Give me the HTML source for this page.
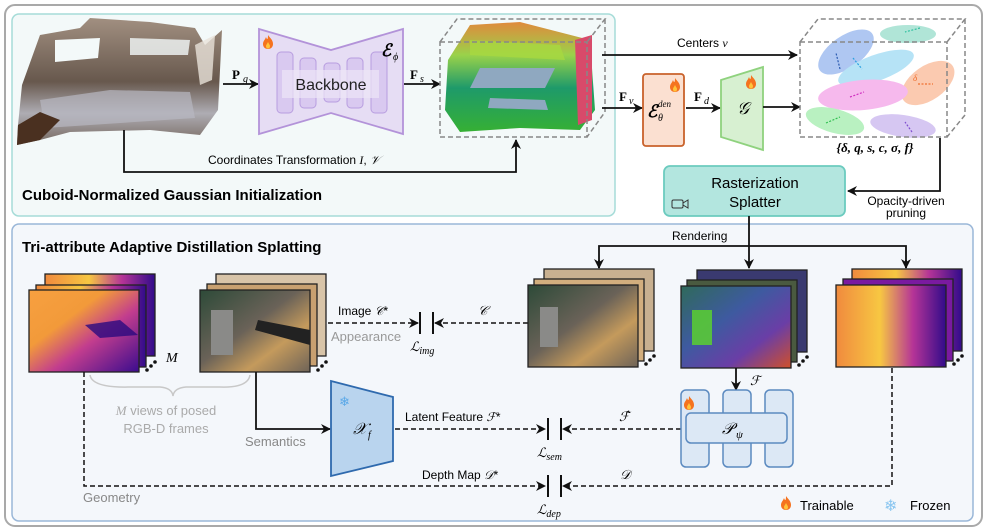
<!DOCTYPE html>
<html><head><meta charset="utf-8"><style>
html,body{margin:0;padding:0;background:#fff;}
svg{display:block;}
text{font-family:"Liberation Sans",sans-serif;}
.m{font-family:"Liberation Serif",serif;font-style:italic;}
.b{font-family:"Liberation Serif",serif;font-weight:bold;}
</style></head><body>
<svg width="987" height="531" viewBox="0 0 987 531" xmlns="http://www.w3.org/2000/svg">
<defs>
<marker id="a" markerWidth="10" markerHeight="10" refX="9" refY="5" orient="auto" markerUnits="userSpaceOnUse"><path d="M0,0 L10,5 L0,10 L3,5 Z" fill="#111"/></marker>
<linearGradient id="dep" x1="0" y1="0" x2="1" y2="1"><stop offset="0" stop-color="#f7a040"/><stop offset="0.35" stop-color="#f29a3a"/><stop offset="0.6" stop-color="#c23d8e"/><stop offset="1" stop-color="#3a0c8e"/></linearGradient>
<linearGradient id="dep2" x1="0" y1="0" x2="1" y2="0"><stop offset="0" stop-color="#f08a3e"/><stop offset="0.4" stop-color="#f7c742"/><stop offset="0.7" stop-color="#b53497"/><stop offset="1" stop-color="#310b8a"/></linearGradient>
<linearGradient id="rgb" x1="0" y1="0" x2="1" y2="1"><stop offset="0" stop-color="#2d4a38"/><stop offset="0.45" stop-color="#6a6258"/><stop offset="0.7" stop-color="#c49a5c"/><stop offset="1" stop-color="#6e6358"/></linearGradient>
<linearGradient id="feat" x1="0" y1="0" x2="1" y2="1"><stop offset="0" stop-color="#2f6a5a"/><stop offset="0.4" stop-color="#3e5aa0"/><stop offset="0.7" stop-color="#6a3ea6"/><stop offset="1" stop-color="#d0502a"/></linearGradient>
<linearGradient id="pc" x1="0" y1="0" x2="0" y2="1"><stop offset="0" stop-color="#9a8676"/><stop offset="0.5" stop-color="#5b4a3e"/><stop offset="0.75" stop-color="#a8a6ad"/><stop offset="1" stop-color="#6a5a50"/></linearGradient>
<linearGradient id="cc" x1="0" y1="0" x2="0" y2="1"><stop offset="0" stop-color="#e08a3c"/><stop offset="0.3" stop-color="#9ad24a"/><stop offset="0.6" stop-color="#1e9a6a"/><stop offset="1" stop-color="#36b034"/></linearGradient>
<g id="fire"><path d="M5,0 C7,3 10,5 10,9 C10,12 8,14 5,14 C2,14 0,12 0,9 C0,6 2,5 3,2 C4,5 5,5 5,0Z" fill="#f5731f"/><path d="M5,7 C6,9 7,10 7,11 C7,13 6,13.5 5,13.5 C4,13.5 3,13 3,11 C3,10 4,9 5,7Z" fill="#ffc43a"/></g>
</defs>
<rect x="5" y="5" width="977" height="521" rx="10" fill="#fff" stroke="#a9a9a9" stroke-width="2"/>
<rect x="12" y="14" width="603" height="202" rx="7" fill="#f3f9f9" stroke="#a6dcd8" stroke-width="1.5"/>
<rect x="12" y="224" width="961" height="297" rx="7" fill="#f4f7fb" stroke="#9ab7d8" stroke-width="1.5"/>

<!-- point cloud -->
<path d="M22,85 L40,35 L80,28 L90,18 L150,22 L195,28 L205,45 L222,30 L218,110 L200,135 L150,130 L70,132 L40,140 L17,145 L18,125 Z" fill="url(#pc)" opacity="0.92"/>
<path d="M55,40 L100,38 L98,58 L55,62Z" fill="#f3f9f9"/>
<path d="M130,38 L190,40 L188,55 L130,55Z" fill="#f3f9f9" opacity="0.8"/>
<path d="M195,45 L215,35 L212,80 L200,85Z" fill="#e8e2da" opacity="0.8"/>
<path d="M40,100 L110,90 L190,92 L195,118 L45,128Z" fill="#b8b8c2" opacity="0.7"/>
<path d="M18,125 L40,112 L60,120 L40,140 L17,145Z" fill="#4a3020"/>
<text x="232" y="79" class="b" font-size="13">P</text><text x="243" y="82" class="m" font-size="10">g</text>
<line x1="223" y1="84" x2="258" y2="84" stroke="#111" stroke-width="1.8" marker-end="url(#a)"/>
<!-- backbone -->
<path d="M259,29 L331,50 L403,29 L403,134 L331,113 L259,134 Z" fill="#e6ddf4" stroke="#b393d9" stroke-width="1.8"/>
<g fill="#d9c9f0" stroke="#b89ddf" stroke-width="1"><rect x="277" y="52" width="16" height="61" rx="4"/><rect x="300" y="58" width="16" height="50" rx="4"/><rect x="324" y="63" width="16" height="39" rx="4"/><rect x="347" y="58" width="16" height="50" rx="4"/><rect x="371" y="52" width="16" height="61" rx="4"/></g>
<rect x="282" y="70" width="97" height="28" fill="#ece6f7" opacity="0.7"/>
<text x="331" y="90" font-size="16" text-anchor="middle" fill="#222">Backbone</text>
<use href="#fire" x="263" y="35"/>
<text x="381" y="56" class="m" font-size="17" font-weight="bold">ℰ</text><text x="393" y="60" class="m" font-size="10">ϕ</text>
<text x="410" y="79" class="b" font-size="13">F</text><text x="420" y="82" class="m" font-size="10">s</text>
<line x1="404" y1="84" x2="440" y2="84" stroke="#111" stroke-width="1.8" marker-end="url(#a)"/>
<!-- colored cloud -->
<path d="M448,60 L470,25 L520,22 L590,40 L595,110 L580,130 L520,128 L460,132 L445,110Z" fill="url(#cc)"/>
<path d="M470,40 L560,45 L565,60 L470,55Z" fill="#a8d840" opacity="0.8"/>
<path d="M480,68 L555,68 L545,88 L470,88Z" fill="#8fa8c0"/>
<path d="M490,98 L545,100 L548,110 L488,108Z" fill="#8fa8c0"/>
<path d="M575,40 L592,35 L592,120 L578,125Z" fill="#d84a6a"/>
<g fill="none" stroke="#888" stroke-width="1.5" stroke-dasharray="5,3"><rect x="440" y="42" width="147" height="95"/><path d="M440,42 L457,19 L605,19 L587,42 M605,19 L605,112 L587,137"/></g>
<!-- coordinates -->
<path d="M124,130 L124,172 L516,172 L516,140" fill="none" stroke="#111" stroke-width="1.8" marker-end="url(#a)"/>
<text x="208" y="164" font-size="12">Coordinates Transformation <tspan class="m">I</tspan>, <tspan class="m">𝒱</tspan></text>
<text x="22" y="200" font-size="15" font-weight="bold">Cuboid-Normalized Gaussian Initialization</text>

<!-- right top -->
<line x1="602" y1="55" x2="797" y2="55" stroke="#111" stroke-width="1.8" marker-end="url(#a)"/>
<text x="677" y="47" font-size="12">Centers <tspan class="m">v</tspan></text>
<line x1="602" y1="108" x2="642" y2="108" stroke="#111" stroke-width="1.8" marker-end="url(#a)"/>
<text x="619" y="101" class="b" font-size="13">F</text><text x="629" y="104" class="m" font-size="10">v</text>
<rect x="643" y="74" width="41" height="72" rx="3" fill="#fbe0d1" stroke="#c9622b" stroke-width="1.8"/>
<use href="#fire" x="670" y="78"/>
<text x="647" y="117" class="m" font-size="17" font-weight="bold">ℰ</text><text x="658" y="121" class="m" font-size="10">θ</text><text x="658" y="107" class="m" font-size="9">den</text>
<line x1="686" y1="108" x2="720" y2="108" stroke="#111" stroke-width="1.8" marker-end="url(#a)"/>
<text x="694" y="101" class="b" font-size="13">F</text><text x="704" y="104" class="m" font-size="10">d</text>
<path d="M721,80 L763,67 L763,150 L721,137Z" fill="#d7f0d1" stroke="#8fd27e" stroke-width="1.8"/>
<use href="#fire" x="746" y="75"/>
<text x="737" y="114" class="m" font-size="17">𝒢</text>
<line x1="763" y1="107" x2="800" y2="107" stroke="#111" stroke-width="1.8" marker-end="url(#a)"/>
<!-- gaussians -->
<g opacity="0.55">
<ellipse cx="846" cy="52" rx="32" ry="16" transform="rotate(-35 846 52)" fill="#6f9be8"/>
<ellipse cx="908" cy="34" rx="28" ry="9" fill="#70d0b8"/>
<ellipse cx="876" cy="68" rx="40" ry="13" transform="rotate(-20 876 68)" fill="#7ccdf0"/>
<ellipse cx="928" cy="83" rx="30" ry="17" transform="rotate(-35 928 83)" fill="#f8a070"/>
<ellipse cx="863" cy="95" rx="45" ry="15" transform="rotate(-5 863 95)" fill="#ef80e0"/>
<ellipse cx="835" cy="121" rx="30" ry="12" transform="rotate(15 835 121)" fill="#80e690"/>
<ellipse cx="903" cy="126" rx="33" ry="11" transform="rotate(8 903 126)" fill="#b69ae8"/>
</g>
<g stroke-width="1.2" stroke-dasharray="2,1.5">
<line x1="840" y1="69" x2="836" y2="53" stroke="#2a5ab0"/><line x1="853" y1="58" x2="862" y2="69" stroke="#2aa0e0"/><line x1="918" y1="84" x2="933" y2="84" stroke="#f07030"/><line x1="850" y1="97" x2="864" y2="92" stroke="#d030c0"/><line x1="826" y1="123" x2="840" y2="117" stroke="#30c050"/><line x1="912" y1="132" x2="905" y2="122" stroke="#8050d0"/><line x1="920" y1="28" x2="905" y2="32" stroke="#30c0a0"/>
</g>
<text x="913" y="81" font-size="9" fill="#f07030" class="m">δ</text>
<g fill="none" stroke="#888" stroke-width="1.5" stroke-dasharray="5,3"><rect x="800" y="42" width="147" height="95"/><path d="M800,42 L818,19 L965,19 L947,42 M965,19 L965,115 L947,137"/></g>
<text x="875" y="152" class="m" font-size="13" font-weight="bold" text-anchor="middle">{δ, q, s, c, σ, f}</text>
<path d="M940,138 L940,191 L848,191" fill="none" stroke="#111" stroke-width="1.8" marker-end="url(#a)"/>
<text x="906" y="205" font-size="12" text-anchor="middle">Opacity-driven</text>
<text x="906" y="217" font-size="12" text-anchor="middle">pruning</text>
<rect x="664" y="166" width="181" height="50" rx="6" fill="#b3e6df" stroke="#6ccbbf" stroke-width="1.8"/>
<text x="755" y="188" font-size="15" text-anchor="middle">Rasterization</text>
<text x="755" y="207" font-size="15" text-anchor="middle">Splatter</text>
<rect x="672" y="200" width="11" height="8" rx="1.5" fill="none" stroke="#333" stroke-width="1"/><path d="M683,203 L688,200 L688,208 L683,205" fill="none" stroke="#333" stroke-width="1"/>
<!-- rendering -->
<line x1="749" y1="216" x2="749" y2="246" stroke="#111" stroke-width="1.8"/>
<path d="M599,268 L599,246 L906,246 L906,268" fill="none" stroke="#111" stroke-width="1.8"/>
<line x1="599" y1="260" x2="599" y2="268" stroke="#111" stroke-width="1.8" marker-end="url(#a)"/>
<line x1="749" y1="246" x2="749" y2="268" stroke="#111" stroke-width="1.8" marker-end="url(#a)"/>
<line x1="906" y1="260" x2="906" y2="268" stroke="#111" stroke-width="1.8" marker-end="url(#a)"/>
<text x="672" y="240" font-size="12">Rendering</text>

<!-- bottom -->
<text x="22" y="252" font-size="15" font-weight="bold">Tri-attribute Adaptive Distillation Splatting</text>
<g stroke="#222" stroke-width="1.3">
<rect x="45" y="274" width="110" height="82" fill="url(#dep2)"/>
<rect x="36" y="285" width="110" height="82" fill="url(#dep2)"/>
<rect x="29" y="290" width="110" height="82" fill="url(#dep)"/>
</g>
<path d="M85,325 L120,320 L138,335 L100,338Z" fill="#2a0a80" opacity="0.8"/>
<g fill="#111"><circle cx="147" cy="370" r="1.8"/><circle cx="151" cy="366" r="1.8"/><circle cx="155" cy="362" r="1.8"/></g>
<text x="166" y="362" class="m" font-size="14">M</text>
<g stroke="#222" stroke-width="1.3">
<rect x="216" y="274" width="110" height="82" fill="#d8c4a8"/>
<rect x="207" y="284" width="110" height="82" fill="#c8a070"/>
<rect x="200" y="290" width="110" height="82" fill="url(#rgb)"/>
</g>
<rect x="211" y="310" width="22" height="45" fill="#8a8a88"/>
<path d="M258,320 L310,330 L310,345 L255,330Z" fill="#222"/>
<g fill="#111"><circle cx="318" cy="370" r="1.8"/><circle cx="322" cy="366" r="1.8"/><circle cx="326" cy="362" r="1.8"/></g>
<path d="M90,375 Q92,388 130,387 L160,387 Q172,388 173,396 Q174,388 186,387 L220,387 Q248,388 250,375" fill="none" stroke="#c8c8c8" stroke-width="1.5"/>
<text x="166" y="415" font-size="13" fill="#aaa" text-anchor="middle"><tspan class="m">M</tspan> views of posed</text>
<text x="166" y="433" font-size="13" fill="#aaa" text-anchor="middle">RGB-D frames</text>
<text x="338" y="315" font-size="12">Image <tspan class="m">𝒞</tspan>*</text>
<text x="331" y="341" font-size="13" fill="#999">Appearance</text>
<line x1="328" y1="323" x2="418" y2="323" stroke="#111" stroke-width="1.5" stroke-dasharray="5,3" marker-end="url(#a)"/>
<line x1="420" y1="312" x2="420" y2="334" stroke="#111" stroke-width="2"/><line x1="433" y1="312" x2="433" y2="334" stroke="#111" stroke-width="2"/>
<line x1="528" y1="323" x2="435" y2="323" stroke="#111" stroke-width="1.5" stroke-dasharray="5,3" marker-end="url(#a)"/>
<text x="478" y="315" class="m" font-size="13">𝒞</text>
<text x="410" y="351" class="m" font-size="13">ℒ<tspan font-size="10" dy="3">img</tspan></text>
<path d="M256,372 L256,429 L330,429" fill="none" stroke="#111" stroke-width="1.8" marker-end="url(#a)"/>
<text x="245" y="446" font-size="13" fill="#888">Semantics</text>
<path d="M331,381 L393,397 L393,461 L331,476Z" fill="#b9d4ee" stroke="#2f6aae" stroke-width="1.8"/>
<text x="339" y="406" font-size="13" fill="#5aa8e8">❄</text>
<text x="353" y="434" class="m" font-size="16">𝒳</text><text x="368" y="438" class="m" font-size="10">f</text>
<line x1="395" y1="429" x2="545" y2="429" stroke="#111" stroke-width="1.5" stroke-dasharray="5,3" marker-end="url(#a)"/>
<text x="405" y="421" font-size="12">Latent Feature <tspan class="m">ℱ</tspan>*</text>
<line x1="548" y1="418" x2="548" y2="440" stroke="#111" stroke-width="2"/><line x1="561" y1="418" x2="561" y2="440" stroke="#111" stroke-width="2"/>
<line x1="681" y1="429" x2="563" y2="429" stroke="#111" stroke-width="1.5" stroke-dasharray="5,3" marker-end="url(#a)"/>
<text x="619" y="421" class="m" font-size="13">ℱ̂</text>
<text x="537" y="457" class="m" font-size="13">ℒ<tspan font-size="10" dy="3">sem</tspan></text>
<path d="M84,372 L84,486 L545,486" fill="none" stroke="#111" stroke-width="1.5" stroke-dasharray="5,3" marker-end="url(#a)"/>
<text x="83" y="502" font-size="13" fill="#888">Geometry</text>
<text x="422" y="479" font-size="12">Depth Map <tspan class="m">𝒟</tspan>*</text>
<line x1="548" y1="475" x2="548" y2="497" stroke="#111" stroke-width="2"/><line x1="561" y1="475" x2="561" y2="497" stroke="#111" stroke-width="2"/>
<path d="M892,368 L892,486 L563,486" fill="none" stroke="#111" stroke-width="1.5" stroke-dasharray="5,3" marker-end="url(#a)"/>
<text x="620" y="479" class="m" font-size="13">𝒟</text>
<text x="537" y="514" class="m" font-size="13">ℒ<tspan font-size="10" dy="3">dep</tspan></text>
<g stroke="#222" stroke-width="1.3">
<rect x="544" y="269" width="110" height="82" fill="#c8b090"/>
<rect x="534" y="279" width="110" height="82" fill="#d2ae7e"/>
<rect x="528" y="285" width="110" height="82" fill="url(#rgb)"/>
<rect x="697" y="270" width="110" height="82" fill="#3a3a70"/>
<rect x="687" y="280" width="110" height="82" fill="#4a5a40"/>
<rect x="681" y="286" width="110" height="82" fill="url(#feat)"/>
<rect x="852" y="269" width="110" height="82" fill="url(#dep2)"/>
<rect x="843" y="279" width="110" height="82" fill="#7a1aa0"/>
<rect x="836" y="285" width="110" height="82" fill="url(#dep2)"/>
</g>
<rect x="692" y="310" width="20" height="35" fill="#5ad030" opacity="0.85"/>
<rect x="540" y="307" width="18" height="40" fill="#8a8a88"/>
<g fill="#111"><circle cx="646" cy="364" r="1.8"/><circle cx="650" cy="360" r="1.8"/><circle cx="654" cy="356" r="1.8"/><circle cx="799" cy="365" r="1.8"/><circle cx="803" cy="361" r="1.8"/><circle cx="807" cy="357" r="1.8"/><circle cx="954" cy="364" r="1.8"/><circle cx="958" cy="360" r="1.8"/><circle cx="962" cy="356" r="1.8"/></g>
<line x1="736" y1="368" x2="736" y2="390" stroke="#111" stroke-width="1.8" marker-end="url(#a)"/>
<text x="750" y="385" class="m" font-size="13">ℱ</text>
<g fill="#dce8f5" stroke="#5b8ac0" stroke-width="1.5">
<rect x="681" y="390" width="28" height="77" rx="5"/><rect x="723" y="390" width="28" height="77" rx="5"/><rect x="765" y="390" width="28" height="77" rx="5"/>
<rect x="686" y="413" width="101" height="30" rx="5"/>
</g>
<use href="#fire" x="684" y="396"/>
<text x="722" y="434" class="m" font-size="16">𝒫</text><text x="736" y="438" class="m" font-size="11">ψ</text>
<use href="#fire" x="781" y="496"/>
<text x="800" y="510" font-size="13">Trainable</text>
<text x="884" y="511" font-size="16" fill="#8ac6f0">❄</text>
<text x="910" y="510" font-size="13">Frozen</text>
</svg>
</body></html>
